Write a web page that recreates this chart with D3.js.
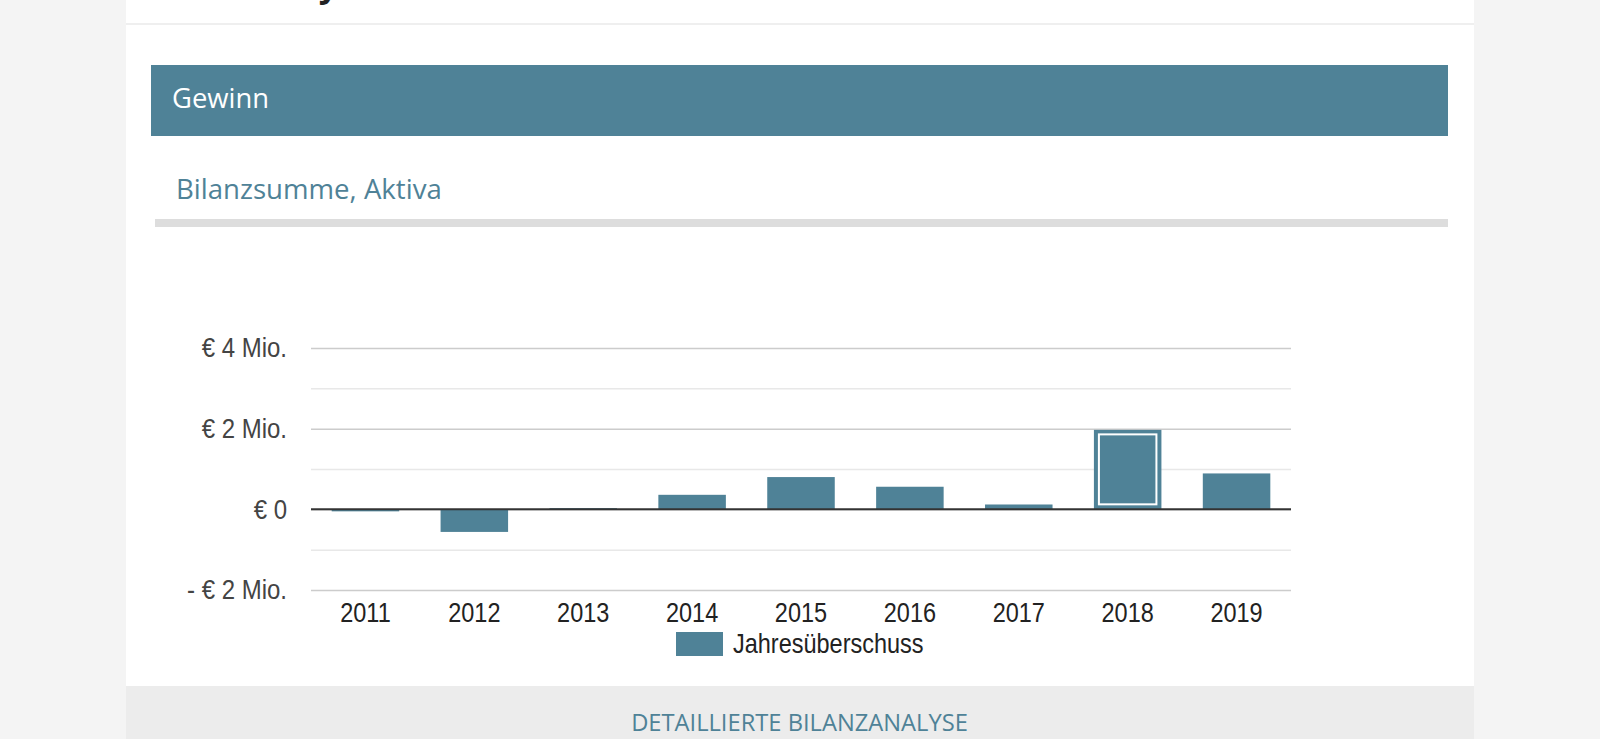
<!DOCTYPE html>
<html>
<head>
<meta charset="utf-8">
<script src="https://cdn.jsdelivr.net/npm/d3@7/dist/d3.min.js"></script>
<style>
html,body{margin:0;padding:0;background:#f4f4f4;overflow:hidden}
svg{display:block}
</style>
</head>
<body>
<svg id="chart" width="1600" height="739"></svg>
<script>
// ---- data ----
const years = ["2011","2012","2013","2014","2015","2016","2017","2018","2019"];
const jahresueberschuss = [-0.05, -0.56, 0.03, 0.36, 0.80, 0.56, 0.12, 1.97, 0.89]; // Mio. €
const majorTicks = [-2, 0, 2, 4];
const minorTicks = [-1, 1, 3];
const seriesName = "Jahresüberschuss";
const highlightedYear = "2018";
const sectionTitle = "Gewinn";
const chartTitle = "Bilanzsumme, Aktiva";
const linkText = "DETAILLIERTE BILANZANALYSE";

const BLUE = "#4f8297";
const SY = 1.15; // vertical stretch of chart text
const svg = d3.select("#chart");

// ---- page card ----
svg.append("rect").attr("x",0).attr("y",0).attr("width",1600).attr("height",739).attr("fill","#f4f4f4");
svg.append("rect").attr("x",126).attr("y",0).attr("width",1348).attr("height",739).attr("fill","#ffffff");
// cut-off heading above
svg.append("text").attr("x",126+16).attr("y",-3)
  .attr("font-family","Open Sans").attr("font-weight",700).attr("font-size",34).attr("fill","#222")
  .text("Bilanzanalyse");
svg.append("rect").attr("x",126).attr("y",23).attr("width",1348).attr("height",2).attr("fill","#efefef");

// section header bar
svg.append("rect").attr("x",151).attr("y",65).attr("width",1297).attr("height",71).attr("fill",BLUE);
svg.append("text").attr("x",172).attr("y",108).attr("font-family","Open Sans").attr("font-size",27.4)
  .attr("fill","#ffffff").text(sectionTitle);

// chart title + separator
svg.append("text").attr("x",176).attr("y",199).attr("font-family","Open Sans").attr("font-size",27.6)
  .attr("fill",BLUE).text(chartTitle);
svg.append("rect").attr("x",155).attr("y",219).attr("width",1293).attr("height",8).attr("fill","#dddddd");

// bottom link band
svg.append("rect").attr("x",126).attr("y",686).attr("width",1348).attr("height",60).attr("fill","#ececec");
svg.append("text").attr("x",799.5).attr("y",731).attr("text-anchor","middle")
  .attr("font-family","Open Sans").attr("font-size",23.7).attr("fill",BLUE).text(linkText);

// ---- chart ----
const left = 311, right = 1291;
const x = d3.scaleBand().domain(years).range([left, right]).paddingInner(0.38).paddingOuter(0.19);
const y = d3.scaleLinear().domain([-2, 4]).range([590, 348]);

const g = svg.append("g");

// minor gridlines
g.append("g").attr("transform",`translate(${left},0)`)
  .call(d3.axisLeft(y).tickValues(minorTicks).tickSize(-(right-left)).tickFormat(""))
  .call(a => a.select(".domain").remove())
  .call(a => a.selectAll("line").attr("stroke","#e8e8e8").attr("stroke-width",1.5));

// major gridlines + labels
const fmt = v => v === 0 ? "€ 0" : (v < 0 ? "- € " + Math.abs(v) + " Mio." : "€ " + v + " Mio.");
g.append("g").attr("transform",`translate(${left},0)`)
  .call(d3.axisLeft(y).tickValues(majorTicks).tickSize(-(right-left)).tickPadding(24).tickFormat(fmt))
  .call(a => a.select(".domain").remove())
  .call(a => a.selectAll("line").attr("stroke","#cccccc").attr("stroke-width",1.5))
  .call(a => a.selectAll("text").attr("font-family","Liberation Sans, Arial, sans-serif")
    .attr("font-size",24).attr("fill","#444").attr("transform",`scale(1,${SY})`));

// bars
g.selectAll("rect.bar").data(years.map((yr,i)=>({yr, v: jahresueberschuss[i]})))
  .join("rect").attr("class","bar")
  .attr("x", d => x(d.yr))
  .attr("width", x.bandwidth())
  .attr("y", d => y(Math.max(0, d.v)))
  .attr("height", d => Math.abs(y(d.v) - y(0)))
  .attr("fill", BLUE);

// highlighted bar inner white border
const hv = jahresueberschuss[years.indexOf(highlightedYear)];
g.append("rect")
  .attr("x", x(highlightedYear) + 5)
  .attr("y", y(hv) + 4.5)
  .attr("width", x.bandwidth() - 10)
  .attr("height", y(0) - y(hv) - 9.5)
  .attr("fill","none").attr("stroke","#ffffff").attr("stroke-width",2);

// zero baseline
g.append("line").attr("x1",left).attr("x2",right).attr("y1",y(0)).attr("y2",y(0))
  .attr("stroke","#333").attr("stroke-width",2);

// x axis labels
g.append("g").attr("transform","translate(0,600)")
  .call(d3.axisBottom(x).tickSize(0).tickPadding(0))
  .call(a => a.select(".domain").remove())
  .call(a => a.selectAll("text").attr("dy",null).attr("y",21.5/SY)
    .attr("transform",`scale(1,${SY})`)
    .attr("font-family","Liberation Sans, Arial, sans-serif").attr("font-size",23.5).attr("fill","#222"));

// legend
const lg = svg.append("g");
lg.append("rect").attr("x",676).attr("y",632).attr("width",47).attr("height",24).attr("fill",BLUE);
lg.append("text").attr("x",733).attr("y",653/SY).attr("transform",`scale(1,${SY})`)
  .attr("font-family","Liberation Sans, Arial, sans-serif")
  .attr("font-size",23.5).attr("fill","#222").text(seriesName);
</script>
</body>
</html>
